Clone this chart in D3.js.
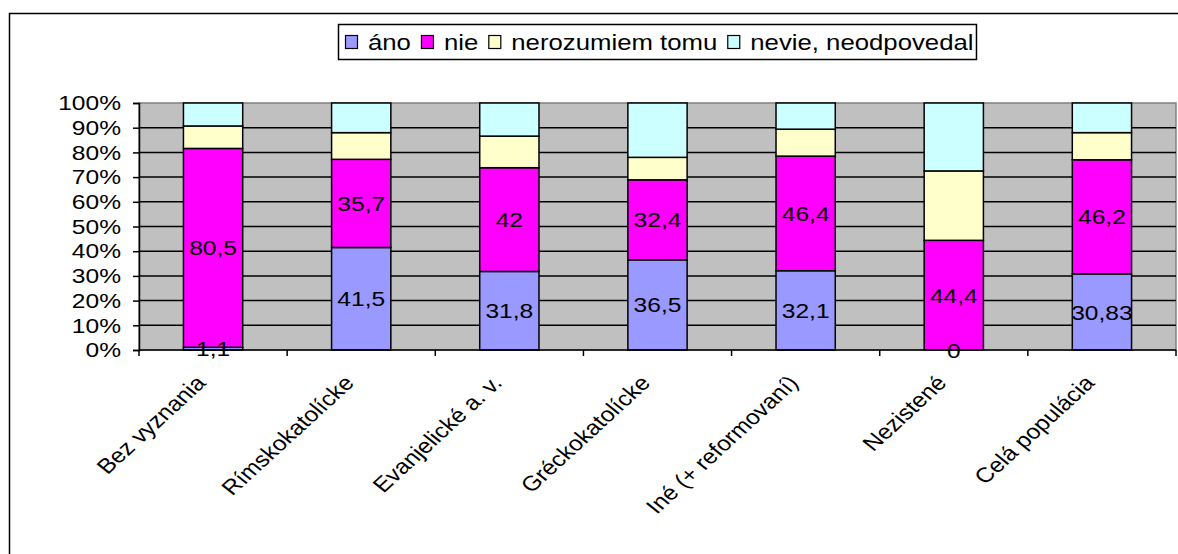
<!DOCTYPE html>
<html>
<head>
<meta charset="utf-8">
<script src="https://cdn.jsdelivr.net/npm/d3@7"></script>
<style>
  body { margin: 0; background: #fff; }
  svg { font-family: "Liberation Sans", Arial, sans-serif; }
</style>
</head>
<body>
<svg id="chart"></svg>
<script>
// categories and series (percent of each group)
var categories = ["Bez vyznania", "Rímskokatolícke", "Evanjelické a. v.", "Gréckokatolícke",
                  "Iné (+ reformovaní)", "Nezistené", "Celá populácia"]
var ano = [1.1, 41.5, 31.8, 36.5, 32.1, 0, 30.83]
var nie = [80.5, 35.7, 42, 32.4, 46.4, 44.4, 46.2]
var nerozumiem = [9.1, 10.8, 12.8, 9.1, 10.9, 28.1, 11.0]
var nevie = [9.3, 12.0, 13.4, 22.0, 10.6, 27.5, 12.0]
var seriesNames = ["áno", "nie", "nerozumiem tomu", "nevie, neodpovedal"]
var colors = ["#9999FF", "#FF00FF", "#FFFFCC", "#CCFFFF"]
var yTicks = [0, 10, 20, 30, 40, 50, 60, 70, 80, 90, 100]

var screen = { width: 1178, height: 554 }
var margins = { left: 139, right: 2, top: 103, bottom: 204 }
var graph = {
    width: screen.width - margins.left - margins.right,
    height: screen.height - margins.top - margins.bottom
}
// the original picture is a bit wider than tall, text too
var stretch = 1.17
var fontSize = 21

var svg = d3.select("#chart")
    .attr("width", screen.width)
    .attr("height", screen.height)

// outer chart frame
svg.append("path")
    .attr("d", "M9.5," + screen.height + " V13.5 H" + screen.width)
    .attr("fill", "none")
    .attr("stroke", "black")
    .attr("stroke-width", 1.5)

var stackData = categories.map(function (c, i) {
    var raw = [ano[i], nie[i], nerozumiem[i], nevie[i]]
    var total = d3.sum(raw)
    return { cat: c, s0: raw[0] / total * 100, s1: raw[1] / total * 100,
             s2: raw[2] / total * 100, s3: raw[3] / total * 100, raw: raw }
})
var stack = d3.stack().keys(["s0", "s1", "s2", "s3"])(stackData)

var xScale = d3.scaleBand()
    .domain(categories)
    .range([0, graph.width])
    .paddingInner(0.6)
    .paddingOuter(0.3)

var yScale = d3.scaleLinear()
    .domain([0, 100])
    .range([graph.height, 0])

var g = svg.append("g")
    .attr("transform", "translate(" + margins.left + "," + margins.top + ")")

// plot area
g.append("rect")
    .attr("width", graph.width)
    .attr("height", graph.height)
    .attr("fill", "#C0C0C0")
    .attr("stroke", "#808080")
    .attr("stroke-width", 1.5)

// gridlines
g.append("g")
    .selectAll("line")
    .data(yTicks.slice(1, -1))
    .enter()
    .append("line")
    .attr("x1", 0)
    .attr("x2", graph.width)
    .attr("y1", function (d) { return yScale(d) })
    .attr("y2", function (d) { return yScale(d) })
    .attr("stroke", "black")
    .attr("stroke-width", 1.5)

// bars
var layers = g.append("g")
    .selectAll("g")
    .data(stack)
    .enter()
    .append("g")
    .attr("fill", function (d, i) { return colors[i] })

layers.selectAll("rect")
    .data(function (d) { return d })
    .enter()
    .append("rect")
    .attr("x", function (d) { return xScale(d.data.cat) })
    .attr("width", xScale.bandwidth())
    .attr("y", function (d) { return yScale(d[1]) })
    .attr("height", function (d) { return yScale(d[0]) - yScale(d[1]) })
    .attr("stroke", "black")
    .attr("stroke-width", 1.5)

// data labels for áno and nie
stack.slice(0, 2).forEach(function (layer, si) {
    g.append("g")
        .selectAll("text")
        .data(layer)
        .enter()
        .append("text")
        .attr("transform", function (d) {
            return "translate(" + (xScale(d.data.cat) + xScale.bandwidth() / 2) + "," +
                yScale((d[0] + d[1]) / 2) + ") scale(" + stretch + ",1)"
        })
        .attr("dy", "0.36em")
        .attr("text-anchor", "middle")
        .attr("font-size", fontSize)
        .text(function (d) { return String(d.data.raw[si]).replace(".", ",") })
})

// y axis
var yAxis = d3.axisLeft(yScale)
    .tickValues(yTicks)
    .tickSize(6)
    .tickFormat(function (d) { return d + "%" })
var ya = g.append("g").call(yAxis)
ya.select(".domain").attr("stroke-width", 1.5)
ya.selectAll("line").attr("stroke-width", 1.5)
ya.selectAll("text")
    .attr("font-size", fontSize)
    .attr("fill", "black")
    .attr("font-family", "Liberation Sans, Arial, sans-serif")
    .attr("x", -18 / stretch)
    .attr("transform", "scale(" + stretch + ",1)")

// x axis: line and ticks between categories
var xa = g.append("g").attr("transform", "translate(0," + graph.height + ")")
xa.append("line")
    .attr("x1", 0).attr("x2", graph.width)
    .attr("stroke", "black").attr("stroke-width", 1.5)
xa.selectAll(".tk")
    .data(d3.range(categories.length + 1))
    .enter()
    .append("line")
    .attr("x1", function (i) { return i * graph.width / categories.length })
    .attr("x2", function (i) { return i * graph.width / categories.length })
    .attr("y1", 0).attr("y2", 6)
    .attr("stroke", "black").attr("stroke-width", 1.5)

xa.selectAll(".lbl")
    .data(categories)
    .enter()
    .append("text")
    .attr("text-anchor", "end")
    .attr("font-size", fontSize)
    .attr("transform", function (d) {
        return "translate(" + (xScale(d) + xScale.bandwidth() / 2 - 6) + ",34) scale(" +
            stretch + ",1) rotate(-47)"
    })
    .text(function (d) { return d })

// legend
var legend = svg.append("g")
var box = legend.append("rect")
    .attr("x", 338.5).attr("y", 24.5)
    .attr("height", 35)
    .attr("fill", "white").attr("stroke", "black").attr("stroke-width", 1.5)

var lx = 345
seriesNames.forEach(function (name, i) {
    var item = legend.append("g").attr("transform", "translate(" + lx + ",0)")
    item.append("rect")
        .attr("x", 0.5).attr("y", 35.5)
        .attr("width", 12).attr("height", 13)
        .attr("fill", colors[i]).attr("stroke", "black").attr("stroke-width", 1.2)
    var t = item.append("text")
        .attr("transform", "translate(23,50) scale(" + stretch + ",1)")
        .attr("font-size", 22)
        .text(name)
    lx += 23 + t.node().getComputedTextLength() * stretch + 10
})
box.attr("width", lx - 10 + 3 - 338.5)
</script>
</body>
</html>
